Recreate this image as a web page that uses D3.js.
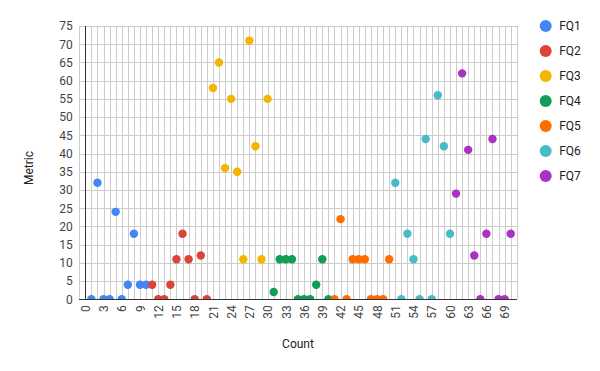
<!DOCTYPE html>
<html>
<head>
<meta charset="utf-8">
<script src="https://cdn.jsdelivr.net/npm/d3@7"></script>
<style>
  body { margin: 0; background: #fff; }
  svg { font-family: Roboto, Arial, sans-serif; display: block; }
</style>
</head>
<body>
<div class="chart"></div>
<script>
const seriesNames = ["FQ1", "FQ2", "FQ3", "FQ4", "FQ5", "FQ6", "FQ7"];
const colors = ["#4285F4", "#DB4437", "#F4B400", "#0F9D58", "#FF6D00", "#46BDC6", "#AB30C4"];

const fq1Count = [1, 2, 3, 4, 5, 6, 7, 8, 9, 10];
const fq1Metric = [0, 32, 0, 0, 24, 0, 4, 18, 4, 4];
const fq2Count = [11, 12, 13, 14, 15, 16, 17, 18, 19, 20];
const fq2Metric = [4, 0, 0, 4, 11, 18, 11, 0, 12, 0];
const fq3Count = [21, 22, 23, 24, 25, 26, 27, 28, 29, 30];
const fq3Metric = [58, 65, 36, 55, 35, 11, 71, 42, 11, 55];
const fq4Count = [31, 32, 33, 34, 35, 36, 37, 38, 39, 40];
const fq4Metric = [2, 11, 11, 11, 0, 0, 0, 4, 11, 0];
const fq5Count = [41, 42, 43, 44, 45, 46, 47, 48, 49, 50];
const fq5Metric = [0, 22, 0, 11, 11, 11, 0, 0, 0, 11];
const fq6Count = [51, 52, 53, 54, 55, 56, 57, 58, 59, 60];
const fq6Metric = [32, 0, 18, 11, 0, 44, 0, 56, 42, 18];
const fq7Count = [61, 62, 63, 64, 65, 66, 67, 68, 69, 70];
const fq7Metric = [29, 62, 41, 12, 0, 18, 44, 0, 0, 18];

const xTicks = [0, 3, 6, 9, 12, 15, 18, 21, 24, 27, 30, 33, 36, 39, 42, 45, 48, 51, 54, 57, 60, 63, 66, 69];
const yTicks = [0, 5, 10, 15, 20, 25, 30, 35, 40, 45, 50, 55, 60, 65, 70, 75];

const counts = [fq1Count, fq2Count, fq3Count, fq4Count, fq5Count, fq6Count, fq7Count];
const metrics = [fq1Metric, fq2Metric, fq3Metric, fq4Metric, fq5Metric, fq6Metric, fq7Metric];

const w = 600, h = 371;
const area = { left: 79.2, right: 516.8, top: 26, bottom: 299.3 };

const xScale = d3.scaleLinear().domain([-1, 71]).range([area.left, area.right]);
const yScale = d3.scaleLinear().domain([0, 75]).range([area.bottom, area.top]);

const svg = d3.select(".chart").append("svg").attr("width", w).attr("height", h);

svg.append("clipPath").attr("id", "plot-clip")
  .append("rect")
  .attr("x", area.left).attr("y", area.top)
  .attr("width", area.right - area.left).attr("height", area.bottom - area.top + 0.5);

// vertical minor grid
svg.append("g")
  .attr("transform", `translate(0, ${area.bottom})`)
  .call(d3.axisBottom(xScale).tickValues(d3.range(-1, 72)).tickSize(-(area.bottom - area.top)).tickFormat(""))
  .call(g => g.select(".domain").remove())
  .call(g => g.selectAll("line").attr("stroke", "#cccccc").attr("shape-rendering", "crispEdges"));

// horizontal grid + y labels
svg.append("g")
  .attr("transform", `translate(${area.left}, 0)`)
  .call(d3.axisLeft(yScale).tickValues(yTicks).tickSize(-(area.right - area.left)).tickPadding(6.5))
  .call(g => g.select(".domain").remove())
  .call(g => g.selectAll("line").attr("stroke", "#cccccc").attr("shape-rendering", "crispEdges"))
  .call(g => g.selectAll("text").attr("fill", "#444").attr("font-size", 12).attr("font-family", "Roboto, Arial, sans-serif"));

// x labels
svg.append("g")
  .attr("transform", `translate(0, ${area.bottom})`)
  .call(d3.axisBottom(xScale).tickValues(xTicks).tickSize(0))
  .call(g => g.select(".domain").remove())
  .call(g => g.selectAll("text")
    .attr("fill", "#444").attr("font-size", 12).attr("font-family", "Roboto, Arial, sans-serif")
    .attr("transform", "rotate(-90)")
    .attr("text-anchor", "end")
    .attr("x", -6).attr("y", 0).attr("dy", "0.35em"));

// points
const plot = svg.append("g").attr("clip-path", "url(#plot-clip)");
seriesNames.forEach((name, s) => {
  plot.selectAll(null)
    .data(counts[s].map((c, i) => [c, metrics[s][i]]))
    .enter()
    .append("circle")
    .attr("cx", d => xScale(d[0]))
    .attr("cy", d => yScale(d[1]))
    .attr("r", 4.2)
    .attr("fill", colors[s]);
});

// baselines
svg.append("line")
  .attr("x1", xScale(0)).attr("x2", xScale(0))
  .attr("y1", area.top).attr("y2", area.bottom)
  .attr("stroke", "#333").attr("shape-rendering", "crispEdges");
svg.append("line")
  .attr("x1", area.left).attr("x2", area.right)
  .attr("y1", yScale(0)).attr("y2", yScale(0))
  .attr("stroke", "#333").attr("shape-rendering", "crispEdges");

// axis titles
svg.append("text")
  .attr("x", (area.left + area.right) / 2).attr("y", 348)
  .attr("text-anchor", "middle").attr("font-size", 12).attr("fill", "#222")
  .text("Count");
svg.append("text")
  .attr("transform", "translate(33, 168) rotate(-90)")
  .attr("text-anchor", "middle").attr("font-size", 12).attr("fill", "#222")
  .text("Metric");

// legend
const legend = svg.append("g").selectAll("g")
  .data(seriesNames)
  .enter()
  .append("g")
  .attr("transform", (d, i) => `translate(545.7, ${26 + i * 25})`);
legend.append("circle").attr("r", 6).attr("fill", (d, i) => colors[i]);
legend.append("text")
  .attr("x", 13.5).attr("dy", "0.35em")
  .attr("font-size", 12).attr("fill", "#222")
  .text(d => d);
</script>
</body>
</html>
